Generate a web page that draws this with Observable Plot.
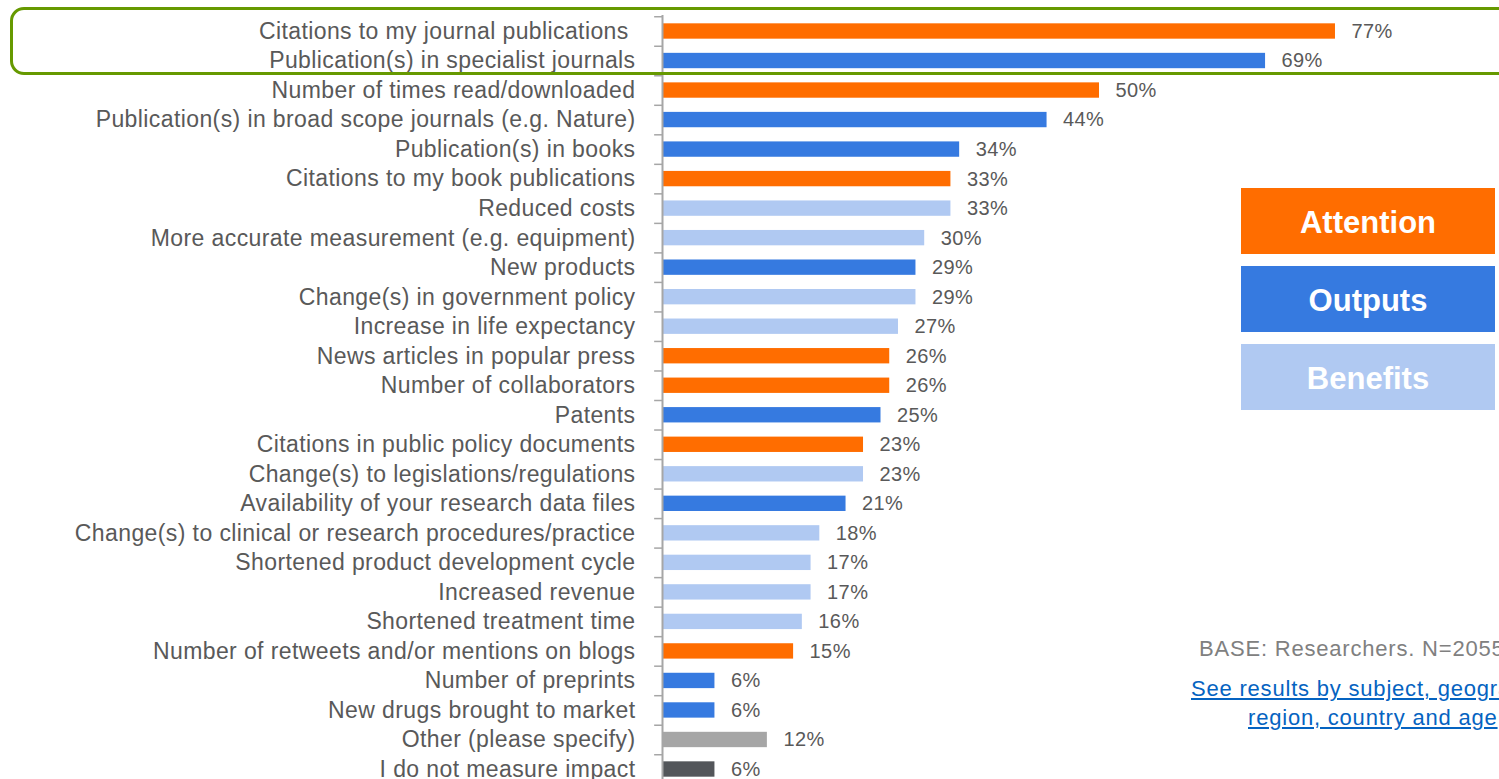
<!DOCTYPE html>
<html>
<head>
<meta charset="utf-8">
<script src="https://cdn.jsdelivr.net/npm/d3@7"></script>
<script src="https://cdn.jsdelivr.net/npm/@observablehq/plot@0.6"></script>
<style>
  html, body { margin: 0; padding: 0; background: #fff; overflow: hidden; }
  body { position: relative; width: 1499px; height: 779px; font-family: "Liberation Sans", Arial, sans-serif; }
  #chart { position: absolute; left: 0; top: 0; }
  .frame { position: absolute; left: 10px; top: 7px; width: 1540px; height: 62px; border: 3px solid #669900; border-radius: 14px; pointer-events: none; }
  .legend { position: absolute; left: 1241px; width: 254px; height: 66px; color: #fff; font-weight: bold; font-size: 31px; line-height: 70px; text-align: center; }
  .note { position: absolute; white-space: nowrap; font-size: 22px; line-height: 28px; letter-spacing: 0.8px; }
  .base { color: #808080; }
  .link { color: #0563c1; text-decoration: underline; }
</style>
</head>
<body>
<div id="chart"></div>
<div class="frame"></div>
<div class="legend" style="top:188px;background:#ff6d00;">Attention</div>
<div class="legend" style="top:266px;background:#367ae0;">Outputs</div>
<div class="legend" style="top:344px;background:#b0c9f2;">Benefits</div>
<div class="note base" style="left:1199px;top:635px;">BASE: Researchers. N=2055</div>
<div class="note link" style="left:1191px;top:675px;">See results by subject, geographic</div>
<div class="note link" style="left:1248px;top:704px;">region, country and age</div>
<script>
const categories = [
  "Citations to my journal publications\u00a0",
  "Publication(s) in specialist journals",
  "Number of times read/downloaded",
  "Publication(s) in broad scope journals (e.g. Nature)",
  "Publication(s) in books",
  "Citations to my book publications",
  "Reduced costs",
  "More accurate measurement (e.g. equipment)",
  "New products",
  "Change(s) in government policy",
  "Increase in life expectancy",
  "News articles in popular press",
  "Number of collaborators",
  "Patents",
  "Citations in public policy documents",
  "Change(s) to legislations/regulations",
  "Availability of your research data files",
  "Change(s) to clinical or research procedures/practice",
  "Shortened product development cycle",
  "Increased revenue",
  "Shortened treatment time",
  "Number of retweets and/or mentions on blogs",
  "Number of preprints",
  "New drugs brought to market",
  "Other (please specify)",
  "I do not measure impact"
];
const values = [77, 69, 50, 44, 34, 33, 33, 30, 29, 29, 27, 26, 26, 25, 23, 23, 21, 18, 17, 17, 16, 15, 6, 6, 12, 6];
const groups = ["Attention", "Outputs", "Attention", "Outputs", "Outputs", "Attention", "Benefits", "Benefits", "Outputs", "Benefits",
  "Benefits", "Attention", "Attention", "Outputs", "Attention", "Benefits", "Outputs", "Benefits", "Benefits", "Benefits",
  "Benefits", "Attention", "Outputs", "Outputs", "Other", "None"];
const groupNames = ["Attention", "Outputs", "Benefits", "Other", "None"];
const groupColors = ["#ff6d00", "#367ae0", "#b0c9f2", "#a6a6a6", "#53565a"];

const data = categories.map((c, i) => ({cat: c, value: values[i], group: groups[i]}));

const yRange = [16, 784];
const padIn = 0.48, padOut = 0.248;
const step = (yRange[1] - yRange[0]) / (categories.length - padIn + 2 * padOut);

const chart = Plot.plot({
  width: 1499,
  height: 779,
  marginLeft: 662,
  marginRight: 0,
  marginTop: 15,
  marginBottom: 0,
  style: "font-family: 'Liberation Sans', Arial, sans-serif; font-size: 23px; color: #595959; letter-spacing: 0.4px; background: #fff; overflow: visible;",
  x: {domain: [0, 100], range: [662, 1536], axis: null},
  y: {domain: categories, range: yRange, paddingInner: padIn, paddingOuter: padOut, round: false},
  color: {domain: groupNames, range: groupColors},
  marks: [
    Plot.barX(data, {x: "value", y: "cat", fill: "group"}),
    Plot.text(data, {x: "value", y: "cat", text: d => d.value + "%", dx: 16, textAnchor: "start", fontSize: 20, fill: "#595959"}),
    Plot.ruleX([0], {stroke: "#a6a6a6", strokeWidth: 2}),
    Plot.ruleY(categories, {y: d => d, x1: -0.9, x2: 0, dy: -step / 2, stroke: "#a6a6a6", strokeWidth: 1.5}),
    Plot.axisY({tickSize: 0, tickPadding: 27, fontSize: 23, fill: "#595959", label: null})
  ]
});
document.getElementById("chart").appendChild(chart);
</script>
</body>
</html>
